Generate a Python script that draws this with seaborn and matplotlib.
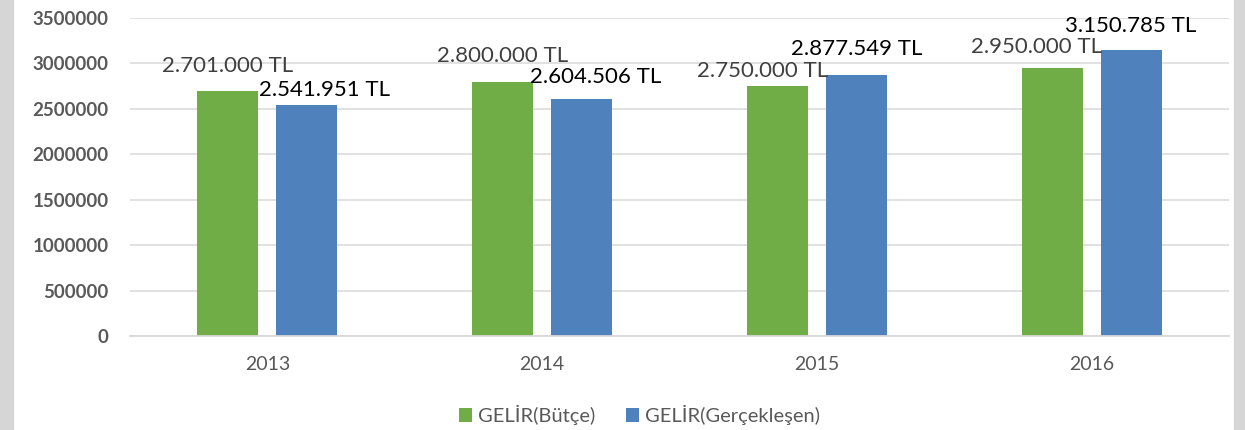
import pandas as pd
import matplotlib.pyplot as plt
from matplotlib.patches import Rectangle
import seaborn as sns

years = ["2013", "2014", "2015", "2016"]
butce = [2701000, 2800000, 2750000, 2950000]
gerceklesen = [2541951, 2604506, 2877549, 3150785]
series_names = ["GELİR(Bütçe)", "GELİR(Gerçekleşen)"]
y_ticks = [0, 500000, 1000000, 1500000, 2000000, 2500000, 3000000, 3500000]

# label nudges in pixels (dx, dy above bar top), the labels were moved by hand in the original
butce_nudge = [(0, 25), (0, 26), (-15, 15), (-16, 21)]
gerc_nudge = [(18, 15), (14, 22), (0, 26), (0, 24)]

df = pd.DataFrame({
    "year": years * 2,
    "value": butce + gerceklesen,
    "series": [series_names[0]] * 4 + [series_names[1]] * 4,
})

sns.set_theme(style="white")
plt.rcParams["font.family"] = ["Lato", "DejaVu Sans"]

green = "#70AD47"
blue = "#4F81BD"
grey_txt = "#595959"

fig = plt.figure(figsize=(12.45, 4.3), dpi=100)
ax = fig.add_axes([130 / 1245, 94 / 430, 1099 / 1245, 318 / 430])

sns.barplot(data=df, x="year", y="value", hue="series", palette=[green, blue],
            width=0.575, gap=0.228, saturation=1, linewidth=0, ax=ax)

ax.set_ylim(0, 3500000)
ax.set_yticks(y_ticks)
ax.set_yticklabels([str(t) for t in y_ticks], fontweight="bold", color=grey_txt, fontsize=13.5)
for lab in ax.get_xticklabels():
    lab.set_color(grey_txt)
    lab.set_fontsize(14)
ax.tick_params(axis="y", length=0, pad=15.5)
ax.tick_params(axis="x", length=0, pad=14.5)
ax.set_xlabel("")
ax.set_ylabel("")
ax.grid(axis="y", color="#D9D9D9", linewidth=1.1)
ax.set_axisbelow(True)
for s in ["top", "right", "left"]:
    ax.spines[s].set_visible(False)
ax.spines["bottom"].set_color("#D9D9D9")
ax.spines["bottom"].set_linewidth(1.3)

# data labels
for cont, vals, nudges, col in [(ax.containers[0], butce, butce_nudge, "#404040"),
                                 (ax.containers[1], gerceklesen, gerc_nudge, "black")]:
    for bar, v, (dx, dy) in zip(cont.patches, vals, nudges):
        txt = f"{v:,}".replace(",", ".") + " TL"
        ax.annotate(txt, xy=(bar.get_x() + bar.get_width() / 2, bar.get_height()),
                    xytext=(dx, dy), textcoords="offset pixels",
                    ha="center", va="center", fontsize=16, color=col,
                    annotation_clip=False)

# legend at bottom
handles, labels = ax.get_legend_handles_labels()
ax.legend_.remove()
fig.legend(handles, labels, loc="center", bbox_to_anchor=(639.5 / 1245, 1 - 415 / 430),
           ncol=2, frameon=False, fontsize=14.5, labelcolor=grey_txt,
           handlelength=0.65, handleheight=0.65, handletextpad=0.27, columnspacing=1.55)

# grey side borders
fig.patches.append(Rectangle((0, 0), 12.5 / 1245, 1, transform=fig.transFigure,
                             color="#D6D6D6", zorder=0))
fig.patches.append(Rectangle((1233.5 / 1245, 0), 11.5 / 1245, 1, transform=fig.transFigure,
                             color="#D6D6D6", zorder=0))

fig.savefig("out.png", dpi=100)
